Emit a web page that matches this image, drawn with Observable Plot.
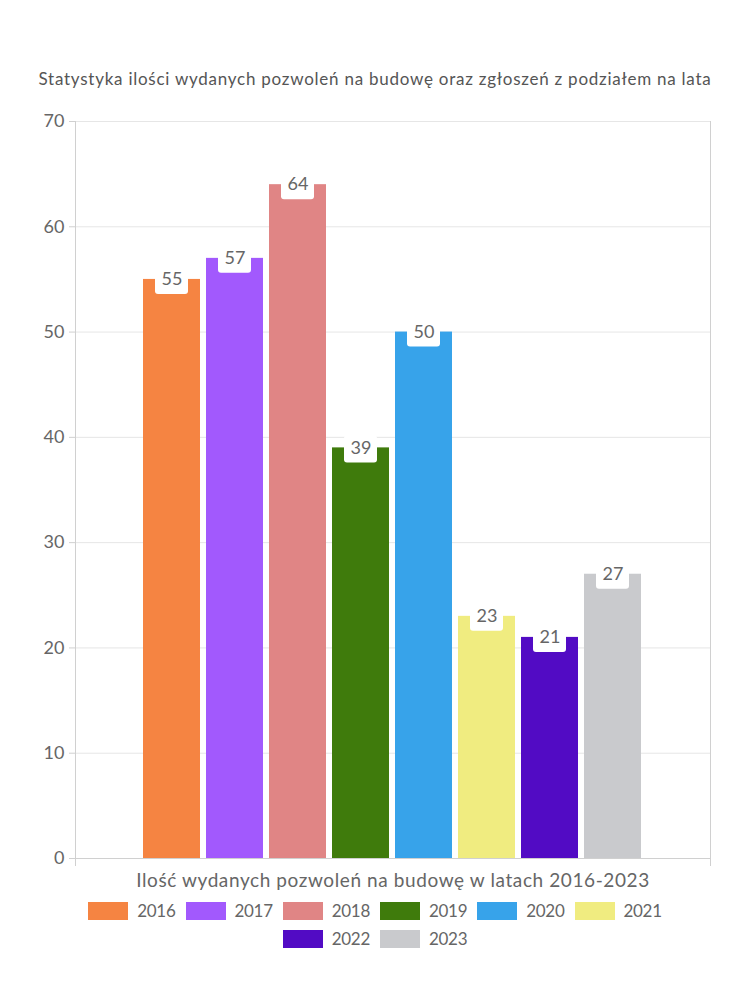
<!DOCTYPE html>
<html>
<head>
<meta charset="utf-8">
<script src="https://cdn.jsdelivr.net/npm/d3@7"></script>
<script src="https://cdn.jsdelivr.net/npm/@observablehq/plot@0.6"></script>
<style>
  body { margin: 0; background: #fff; font-family: Lato, "Noto Sans", sans-serif; color: #666; }
  #wrap { width: 750px; }
  #title { height: 100px; box-sizing: border-box; padding-top: 68px; text-align: center; font-size: 17px; color: #555; letter-spacing: 0.75px; white-space: nowrap; }
  #legend { display: flex; flex-wrap: wrap; justify-content: center; width: 640px; margin: 4px auto 0; row-gap: 6px; }
  .item { display: flex; align-items: center; margin: 0 5px; font-size: 17px; line-height: 22px; color: #666; letter-spacing: -0.3px; }
  .sw { width: 40px; height: 18px; margin-right: 9px; }
</style>
</head>
<body>
<div id="wrap">
  <div id="title">Statystyka ilości wydanych pozwoleń na budowę oraz zgłoszeń z podziałem na lata</div>
  <div id="chart"></div>
  <div id="legend"></div>
</div>
<script>
const years = ["2016", "2017", "2018", "2019", "2020", "2021", "2022", "2023"];
const values = [55, 57, 64, 39, 50, 23, 21, 27];
const colors = ["#f58442", "#a259fd", "#e08585", "#3f7b0c", "#37a3ea", "#f0ec80", "#520bc4", "#c9cacd"];
const yTicks = [0, 10, 20, 30, 40, 50, 60, 70];
const axisLabel = "Ilość wydanych pozwoleń na budowę w latach 2016-2023";

const data = years.map((y, i) => ({year: y, value: values[i]}));
const pxPerUnit = 737 / 70;

const chart = Plot.plot({
  width: 750,
  height: 796,
  marginTop: 21,
  marginLeft: 75,
  marginRight: 40,
  marginBottom: 38,
  style: {fontFamily: "Lato, 'Noto Sans', sans-serif", fontSize: "18px", color: "#666", background: "#fff"},
  x: {domain: years, axis: null, paddingInner: 0.1, paddingOuter: 0, insetLeft: 67, insetRight: 68},
  y: {domain: [0, 70], axis: null},
  color: {domain: years, range: colors},
  marks: [
    Plot.gridY(yTicks, {stroke: "#e6e6e6", strokeOpacity: 1}),
    Plot.frame({anchor: "left", stroke: "#d0d0d0", strokeOpacity: 1, insetBottom: -7}),
    Plot.frame({anchor: "right", stroke: "#d0d0d0", strokeOpacity: 1, insetBottom: -7}),
    Plot.frame({anchor: "bottom", stroke: "#d0d0d0", strokeOpacity: 1}),
    Plot.axisY(yTicks, {tickSize: 6, tickPadding: 5, stroke: "#d0d0d0", fill: "#666", fontSize: 18, label: null}),
    Plot.barY(data, {x: "year", y: "value", fill: "year"}),
    Plot.barY(data, {
      x: "year",
      y1: d => d.value - 15 / pxPerUnit,
      y2: d => d.value + 12 / pxPerUnit,
      fill: "white",
      insetLeft: 12,
      insetRight: 12,
      rx: 3
    }),
    Plot.text(data, {x: "year", y: "value", text: d => String(d.value), fill: "#666", fontSize: 18, dy: 0, lineAnchor: "middle"}),
    Plot.text([axisLabel], {frameAnchor: "bottom", dy: 22, fill: "#666", fontSize: 19, lineAnchor: "middle"})
  ]
});
document.getElementById("chart").appendChild(chart);
chart.querySelectorAll("text").forEach(t => {
  if (t.textContent === axisLabel) t.setAttribute("letter-spacing", "0.6");
});

const legend = document.getElementById("legend");
years.forEach((y, i) => {
  const it = document.createElement("div");
  it.className = "item";
  const sw = document.createElement("span");
  sw.className = "sw";
  sw.style.background = colors[i];
  const t = document.createElement("span");
  t.textContent = y;
  it.appendChild(sw);
  it.appendChild(t);
  legend.appendChild(it);
});
</script>
</body>
</html>
